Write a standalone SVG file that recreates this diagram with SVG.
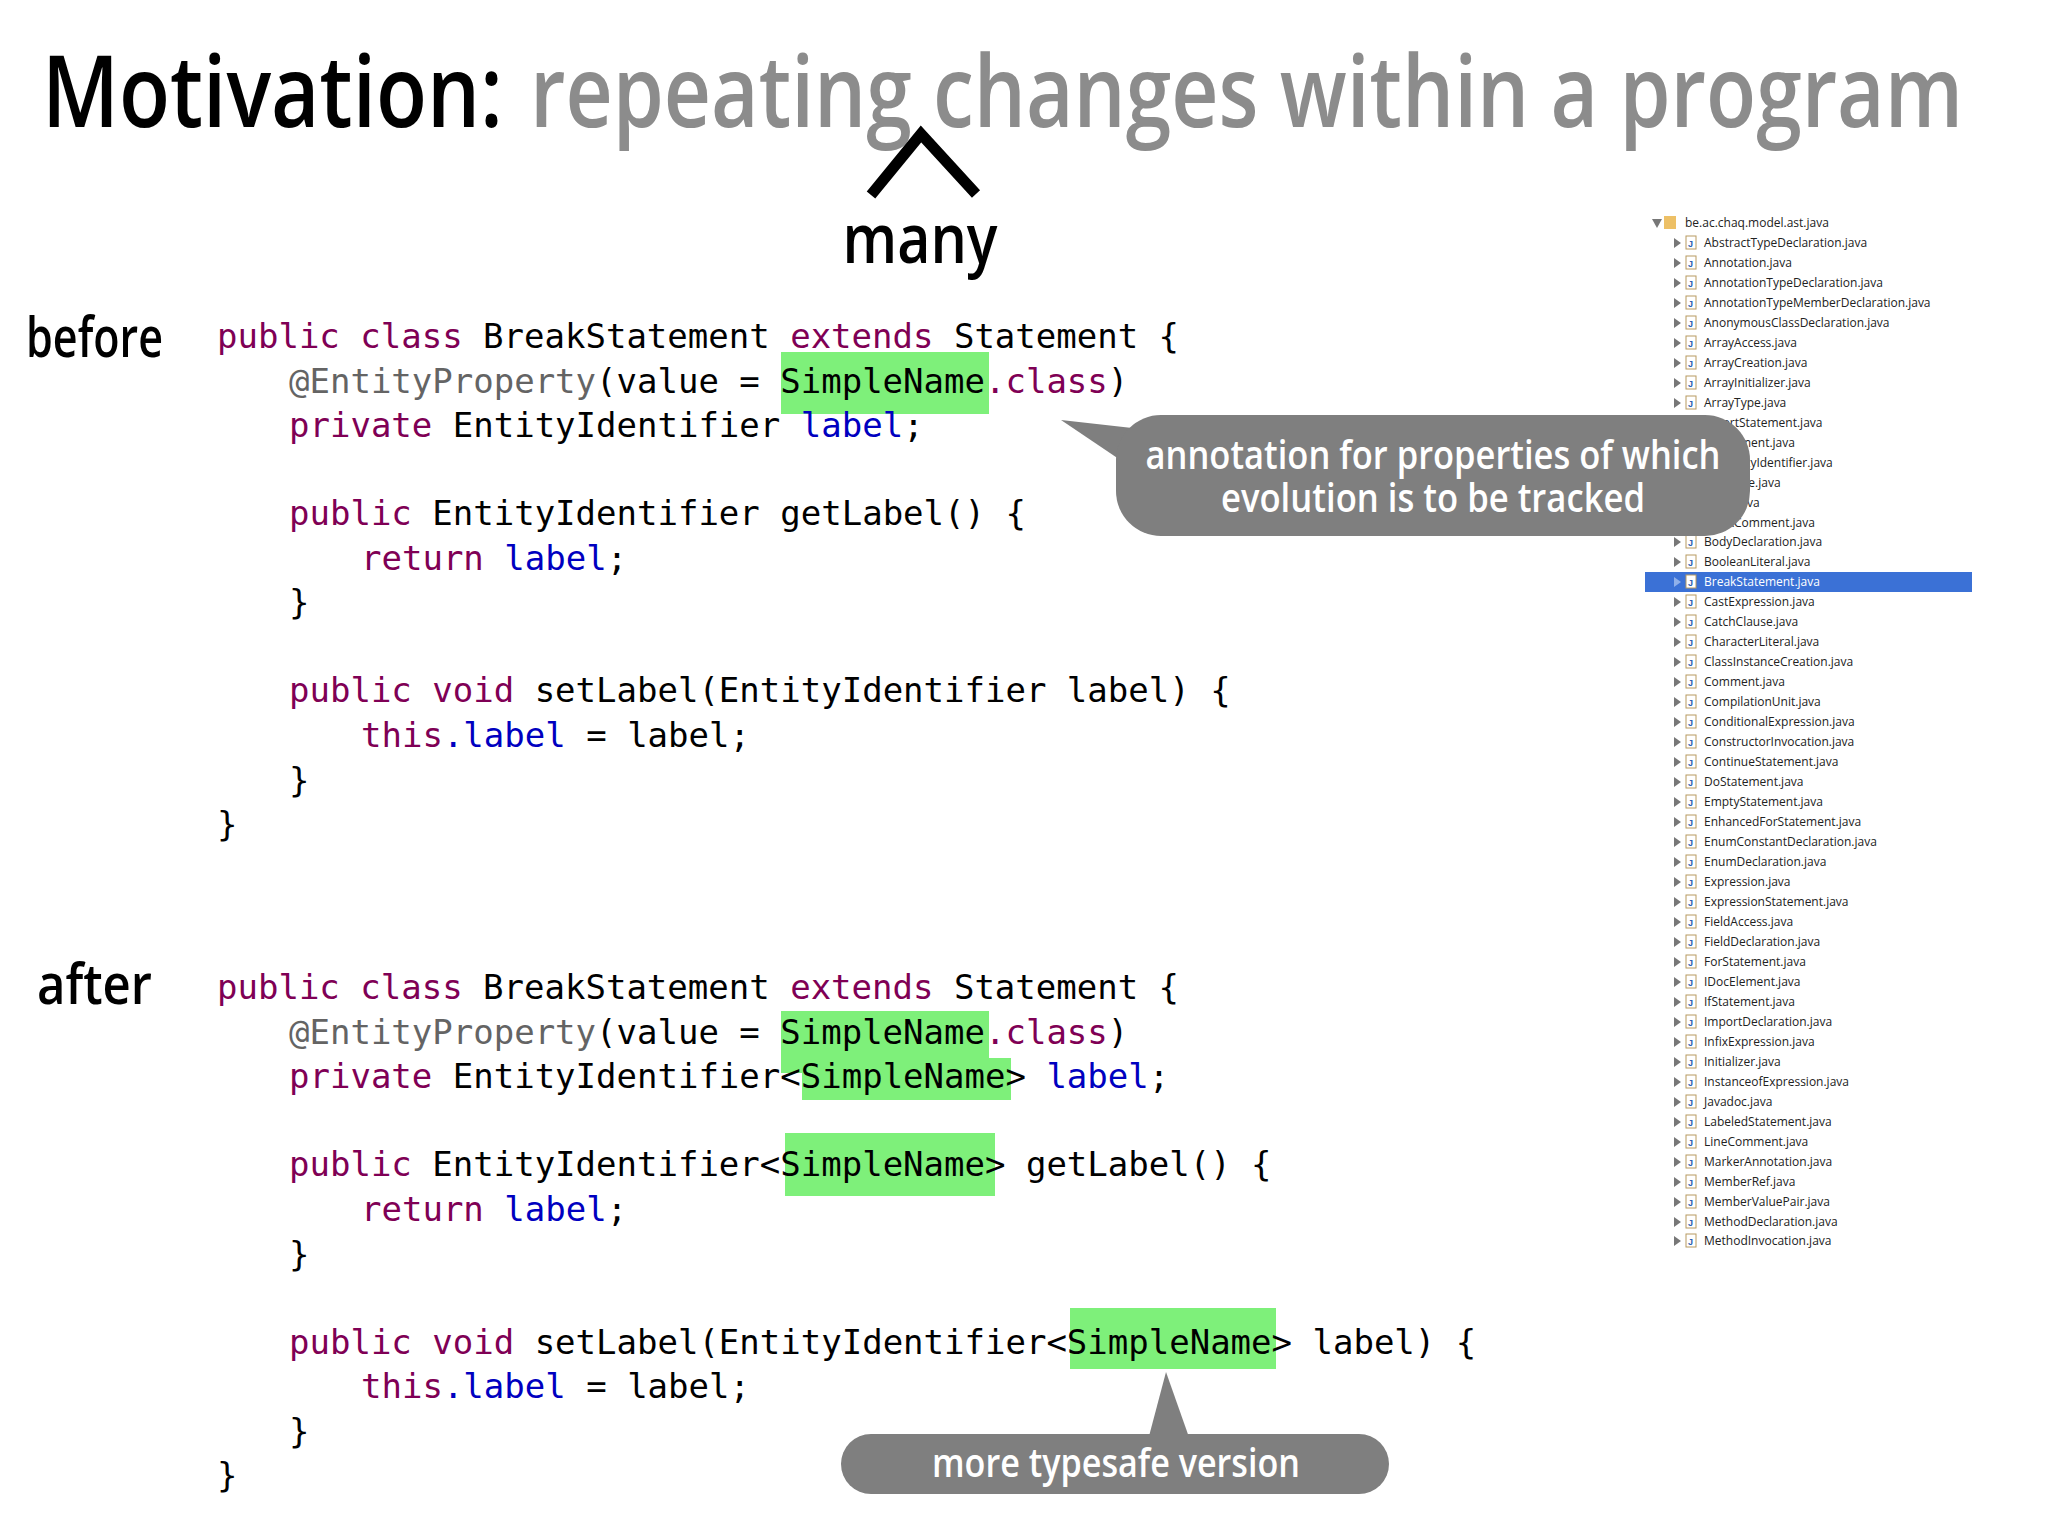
<svg xmlns="http://www.w3.org/2000/svg" width="2048" height="1536" viewBox="0 0 2048 1536">
<style>
.t{font-family:"Open Sans","Liberation Sans",sans-serif;font-weight:600}
.c{font-family:"DejaVu Sans Mono","Liberation Mono",monospace;font-size:34px;fill:#000}
.k{fill:#7f0055}.a{fill:#646464}.f{fill:#0000c0}
.hl{fill:#7ef07a}
.tr{font-family:"Open Sans","Liberation Sans",sans-serif;font-size:12px;fill:#222}
.ar{fill:#777}
.ic{fill:#fff;stroke:#b89a60;stroke-width:1}
.j{font-family:"Liberation Sans",sans-serif;font-size:9px;font-weight:bold;fill:#2a5db0}
.callout{fill:#7f7f7f}
.ct{font-family:"Open Sans","Liberation Sans",sans-serif;font-weight:600;fill:#fff;font-size:40px}
</style>
<rect width="2048" height="1536" fill="#fff"/>
<g id="title">
<text class="t" x="42" y="127" font-size="100" fill="#000" textLength="461" lengthAdjust="spacingAndGlyphs">Motivation:</text>
<text class="t" x="530" y="127" font-size="100" fill="#8c8c8c" textLength="1433" lengthAdjust="spacingAndGlyphs">repeating changes within a program</text>
<path d="M871,195 L921,134 L976,194" fill="none" stroke="#000" stroke-width="11" stroke-linejoin="miter"/>
<text class="t" x="920" y="263" font-size="68" fill="#000" text-anchor="middle" textLength="155" lengthAdjust="spacingAndGlyphs">many</text>
</g>
<g id="labels">
<text class="t" x="26" y="357" font-size="56" fill="#000" textLength="137" lengthAdjust="spacingAndGlyphs">before</text>
<text class="t" x="37" y="1004" font-size="56" fill="#000" textLength="115" lengthAdjust="spacingAndGlyphs">after</text>
</g>
<g id="highlights">
<rect class="hl" x="781" y="352" width="208" height="62"/>
<rect class="hl" x="781" y="1011" width="208" height="62"/>
<rect class="hl" x="802" y="1058" width="209" height="42"/>
<rect class="hl" x="785" y="1133" width="210" height="63"/>
<rect class="hl" x="1070" y="1308" width="206" height="61"/>
</g>
<g id="code-before" xml:space="preserve">
<text class="c" x="217" y="348"><tspan class="k">public class</tspan> BreakStatement <tspan class="k">extends</tspan> Statement {</text>
<text class="c" x="289" y="393"><tspan class="a">@EntityProperty</tspan>(value = SimpleName<tspan class="k">.class</tspan>)</text>
<text class="c" x="289" y="437"><tspan class="k">private</tspan> EntityIdentifier <tspan class="f">label</tspan>;</text>
<text class="c" x="289" y="525"><tspan class="k">public</tspan> EntityIdentifier getLabel() {</text>
<text class="c" x="361" y="570"><tspan class="k">return</tspan> <tspan class="f">label</tspan>;</text>
<text class="c" x="289" y="614">}</text>
<text class="c" x="289" y="702"><tspan class="k">public void</tspan> setLabel(EntityIdentifier label) {</text>
<text class="c" x="361" y="747"><tspan class="k">this</tspan><tspan class="f">.label</tspan> = label;</text>
<text class="c" x="289" y="792">}</text>
<text class="c" x="217" y="836">}</text>
</g>
<g id="code-after" xml:space="preserve">
<text class="c" x="217" y="999"><tspan class="k">public class</tspan> BreakStatement <tspan class="k">extends</tspan> Statement {</text>
<text class="c" x="289" y="1044"><tspan class="a">@EntityProperty</tspan>(value = SimpleName<tspan class="k">.class</tspan>)</text>
<text class="c" x="289" y="1088"><tspan class="k">private</tspan> EntityIdentifier&lt;SimpleName&gt; <tspan class="f">label</tspan>;</text>
<text class="c" x="289" y="1176"><tspan class="k">public</tspan> EntityIdentifier&lt;SimpleName&gt; getLabel() {</text>
<text class="c" x="361" y="1221"><tspan class="k">return</tspan> <tspan class="f">label</tspan>;</text>
<text class="c" x="289" y="1266">}</text>
<text class="c" x="289" y="1354"><tspan class="k">public void</tspan> setLabel(EntityIdentifier&lt;SimpleName&gt; label) {</text>
<text class="c" x="361" y="1398"><tspan class="k">this</tspan><tspan class="f">.label</tspan> = label;</text>
<text class="c" x="289" y="1443">}</text>
<text class="c" x="217" y="1487">}</text>
</g>
<g id="tree">
<rect x="1645" y="572" width="327" height="20" fill="#3b71d6"/>
<path class="ar" d="M1652,219 L1662,219 L1657,228 Z"/>
<rect x="1664" y="216" width="12" height="13" fill="#e8b040" opacity="0.8"/>
<text class="tr" x="1685" y="227">be.ac.chaq.model.ast.java</text>
<g id="items">
<g transform="translate(0,243)"><path class="ar" d="M1674,-5 L1681,0 L1674,5Z"/><rect class="ic" x="1686" y="-7" width="10" height="13"/><text class="j" x="1688" y="4">J</text><text class="tr" x="1704" y="4">AbstractTypeDeclaration.java</text></g>
<g transform="translate(0,263)"><path class="ar" d="M1674,-5 L1681,0 L1674,5Z"/><rect class="ic" x="1686" y="-7" width="10" height="13"/><text class="j" x="1688" y="4">J</text><text class="tr" x="1704" y="4">Annotation.java</text></g>
<g transform="translate(0,283)"><path class="ar" d="M1674,-5 L1681,0 L1674,5Z"/><rect class="ic" x="1686" y="-7" width="10" height="13"/><text class="j" x="1688" y="4">J</text><text class="tr" x="1704" y="4">AnnotationTypeDeclaration.java</text></g>
<g transform="translate(0,303)"><path class="ar" d="M1674,-5 L1681,0 L1674,5Z"/><rect class="ic" x="1686" y="-7" width="10" height="13"/><text class="j" x="1688" y="4">J</text><text class="tr" x="1704" y="4">AnnotationTypeMemberDeclaration.java</text></g>
<g transform="translate(0,323)"><path class="ar" d="M1674,-5 L1681,0 L1674,5Z"/><rect class="ic" x="1686" y="-7" width="10" height="13"/><text class="j" x="1688" y="4">J</text><text class="tr" x="1704" y="4">AnonymousClassDeclaration.java</text></g>
<g transform="translate(0,343)"><path class="ar" d="M1674,-5 L1681,0 L1674,5Z"/><rect class="ic" x="1686" y="-7" width="10" height="13"/><text class="j" x="1688" y="4">J</text><text class="tr" x="1704" y="4">ArrayAccess.java</text></g>
<g transform="translate(0,363)"><path class="ar" d="M1674,-5 L1681,0 L1674,5Z"/><rect class="ic" x="1686" y="-7" width="10" height="13"/><text class="j" x="1688" y="4">J</text><text class="tr" x="1704" y="4">ArrayCreation.java</text></g>
<g transform="translate(0,383)"><path class="ar" d="M1674,-5 L1681,0 L1674,5Z"/><rect class="ic" x="1686" y="-7" width="10" height="13"/><text class="j" x="1688" y="4">J</text><text class="tr" x="1704" y="4">ArrayInitializer.java</text></g>
<g transform="translate(0,403)"><path class="ar" d="M1674,-5 L1681,0 L1674,5Z"/><rect class="ic" x="1686" y="-7" width="10" height="13"/><text class="j" x="1688" y="4">J</text><text class="tr" x="1704" y="4">ArrayType.java</text></g>
<g transform="translate(0,423)"><text class="tr" x="1704" y="4">AssertStatement.java</text></g>
<g transform="translate(0,443)"><text class="tr" x="1704" y="4">Assignment.java</text></g>
<g transform="translate(0,463)"><text class="tr" x="1704" y="4">ASTEntityIdentifier.java</text></g>
<g transform="translate(0,483)"><text class="tr" x="1704" y="4">ASTNode.java</text></g>
<g transform="translate(0,503)"><text class="tr" x="1704" y="4">Block.java</text></g>
<g transform="translate(0,523)"><text class="tr" x="1704" y="4">BlockComment.java</text></g>
<g transform="translate(0,542)"><path class="ar" d="M1674,-5 L1681,0 L1674,5Z"/><rect class="ic" x="1686" y="-7" width="10" height="13"/><text class="j" x="1688" y="4">J</text><text class="tr" x="1704" y="4">BodyDeclaration.java</text></g>
<g transform="translate(0,562)"><path class="ar" d="M1674,-5 L1681,0 L1674,5Z"/><rect class="ic" x="1686" y="-7" width="10" height="13"/><text class="j" x="1688" y="4">J</text><text class="tr" x="1704" y="4">BooleanLiteral.java</text></g>
<g transform="translate(0,582)"><path d="M1674,-5 L1681,0 L1674,5Z" fill="#8fb0ea"/><rect class="ic" x="1686" y="-7" width="10" height="13"/><text class="j" x="1688" y="4">J</text><text class="tr" x="1704" y="4" fill="#fff" style="fill:#fff">BreakStatement.java</text></g>
<g transform="translate(0,602)"><path class="ar" d="M1674,-5 L1681,0 L1674,5Z"/><rect class="ic" x="1686" y="-7" width="10" height="13"/><text class="j" x="1688" y="4">J</text><text class="tr" x="1704" y="4">CastExpression.java</text></g>
<g transform="translate(0,622)"><path class="ar" d="M1674,-5 L1681,0 L1674,5Z"/><rect class="ic" x="1686" y="-7" width="10" height="13"/><text class="j" x="1688" y="4">J</text><text class="tr" x="1704" y="4">CatchClause.java</text></g>
<g transform="translate(0,642)"><path class="ar" d="M1674,-5 L1681,0 L1674,5Z"/><rect class="ic" x="1686" y="-7" width="10" height="13"/><text class="j" x="1688" y="4">J</text><text class="tr" x="1704" y="4">CharacterLiteral.java</text></g>
<g transform="translate(0,662)"><path class="ar" d="M1674,-5 L1681,0 L1674,5Z"/><rect class="ic" x="1686" y="-7" width="10" height="13"/><text class="j" x="1688" y="4">J</text><text class="tr" x="1704" y="4">ClassInstanceCreation.java</text></g>
<g transform="translate(0,682)"><path class="ar" d="M1674,-5 L1681,0 L1674,5Z"/><rect class="ic" x="1686" y="-7" width="10" height="13"/><text class="j" x="1688" y="4">J</text><text class="tr" x="1704" y="4">Comment.java</text></g>
<g transform="translate(0,702)"><path class="ar" d="M1674,-5 L1681,0 L1674,5Z"/><rect class="ic" x="1686" y="-7" width="10" height="13"/><text class="j" x="1688" y="4">J</text><text class="tr" x="1704" y="4">CompilationUnit.java</text></g>
<g transform="translate(0,722)"><path class="ar" d="M1674,-5 L1681,0 L1674,5Z"/><rect class="ic" x="1686" y="-7" width="10" height="13"/><text class="j" x="1688" y="4">J</text><text class="tr" x="1704" y="4">ConditionalExpression.java</text></g>
<g transform="translate(0,742)"><path class="ar" d="M1674,-5 L1681,0 L1674,5Z"/><rect class="ic" x="1686" y="-7" width="10" height="13"/><text class="j" x="1688" y="4">J</text><text class="tr" x="1704" y="4">ConstructorInvocation.java</text></g>
<g transform="translate(0,762)"><path class="ar" d="M1674,-5 L1681,0 L1674,5Z"/><rect class="ic" x="1686" y="-7" width="10" height="13"/><text class="j" x="1688" y="4">J</text><text class="tr" x="1704" y="4">ContinueStatement.java</text></g>
<g transform="translate(0,782)"><path class="ar" d="M1674,-5 L1681,0 L1674,5Z"/><rect class="ic" x="1686" y="-7" width="10" height="13"/><text class="j" x="1688" y="4">J</text><text class="tr" x="1704" y="4">DoStatement.java</text></g>
<g transform="translate(0,802)"><path class="ar" d="M1674,-5 L1681,0 L1674,5Z"/><rect class="ic" x="1686" y="-7" width="10" height="13"/><text class="j" x="1688" y="4">J</text><text class="tr" x="1704" y="4">EmptyStatement.java</text></g>
<g transform="translate(0,822)"><path class="ar" d="M1674,-5 L1681,0 L1674,5Z"/><rect class="ic" x="1686" y="-7" width="10" height="13"/><text class="j" x="1688" y="4">J</text><text class="tr" x="1704" y="4">EnhancedForStatement.java</text></g>
<g transform="translate(0,842)"><path class="ar" d="M1674,-5 L1681,0 L1674,5Z"/><rect class="ic" x="1686" y="-7" width="10" height="13"/><text class="j" x="1688" y="4">J</text><text class="tr" x="1704" y="4">EnumConstantDeclaration.java</text></g>
<g transform="translate(0,862)"><path class="ar" d="M1674,-5 L1681,0 L1674,5Z"/><rect class="ic" x="1686" y="-7" width="10" height="13"/><text class="j" x="1688" y="4">J</text><text class="tr" x="1704" y="4">EnumDeclaration.java</text></g>
<g transform="translate(0,882)"><path class="ar" d="M1674,-5 L1681,0 L1674,5Z"/><rect class="ic" x="1686" y="-7" width="10" height="13"/><text class="j" x="1688" y="4">J</text><text class="tr" x="1704" y="4">Expression.java</text></g>
<g transform="translate(0,902)"><path class="ar" d="M1674,-5 L1681,0 L1674,5Z"/><rect class="ic" x="1686" y="-7" width="10" height="13"/><text class="j" x="1688" y="4">J</text><text class="tr" x="1704" y="4">ExpressionStatement.java</text></g>
<g transform="translate(0,922)"><path class="ar" d="M1674,-5 L1681,0 L1674,5Z"/><rect class="ic" x="1686" y="-7" width="10" height="13"/><text class="j" x="1688" y="4">J</text><text class="tr" x="1704" y="4">FieldAccess.java</text></g>
<g transform="translate(0,942)"><path class="ar" d="M1674,-5 L1681,0 L1674,5Z"/><rect class="ic" x="1686" y="-7" width="10" height="13"/><text class="j" x="1688" y="4">J</text><text class="tr" x="1704" y="4">FieldDeclaration.java</text></g>
<g transform="translate(0,962)"><path class="ar" d="M1674,-5 L1681,0 L1674,5Z"/><rect class="ic" x="1686" y="-7" width="10" height="13"/><text class="j" x="1688" y="4">J</text><text class="tr" x="1704" y="4">ForStatement.java</text></g>
<g transform="translate(0,982)"><path class="ar" d="M1674,-5 L1681,0 L1674,5Z"/><rect class="ic" x="1686" y="-7" width="10" height="13"/><text class="j" x="1688" y="4">J</text><text class="tr" x="1704" y="4">IDocElement.java</text></g>
<g transform="translate(0,1002)"><path class="ar" d="M1674,-5 L1681,0 L1674,5Z"/><rect class="ic" x="1686" y="-7" width="10" height="13"/><text class="j" x="1688" y="4">J</text><text class="tr" x="1704" y="4">IfStatement.java</text></g>
<g transform="translate(0,1022)"><path class="ar" d="M1674,-5 L1681,0 L1674,5Z"/><rect class="ic" x="1686" y="-7" width="10" height="13"/><text class="j" x="1688" y="4">J</text><text class="tr" x="1704" y="4">ImportDeclaration.java</text></g>
<g transform="translate(0,1042)"><path class="ar" d="M1674,-5 L1681,0 L1674,5Z"/><rect class="ic" x="1686" y="-7" width="10" height="13"/><text class="j" x="1688" y="4">J</text><text class="tr" x="1704" y="4">InfixExpression.java</text></g>
<g transform="translate(0,1062)"><path class="ar" d="M1674,-5 L1681,0 L1674,5Z"/><rect class="ic" x="1686" y="-7" width="10" height="13"/><text class="j" x="1688" y="4">J</text><text class="tr" x="1704" y="4">Initializer.java</text></g>
<g transform="translate(0,1082)"><path class="ar" d="M1674,-5 L1681,0 L1674,5Z"/><rect class="ic" x="1686" y="-7" width="10" height="13"/><text class="j" x="1688" y="4">J</text><text class="tr" x="1704" y="4">InstanceofExpression.java</text></g>
<g transform="translate(0,1102)"><path class="ar" d="M1674,-5 L1681,0 L1674,5Z"/><rect class="ic" x="1686" y="-7" width="10" height="13"/><text class="j" x="1688" y="4">J</text><text class="tr" x="1704" y="4">Javadoc.java</text></g>
<g transform="translate(0,1122)"><path class="ar" d="M1674,-5 L1681,0 L1674,5Z"/><rect class="ic" x="1686" y="-7" width="10" height="13"/><text class="j" x="1688" y="4">J</text><text class="tr" x="1704" y="4">LabeledStatement.java</text></g>
<g transform="translate(0,1142)"><path class="ar" d="M1674,-5 L1681,0 L1674,5Z"/><rect class="ic" x="1686" y="-7" width="10" height="13"/><text class="j" x="1688" y="4">J</text><text class="tr" x="1704" y="4">LineComment.java</text></g>
<g transform="translate(0,1162)"><path class="ar" d="M1674,-5 L1681,0 L1674,5Z"/><rect class="ic" x="1686" y="-7" width="10" height="13"/><text class="j" x="1688" y="4">J</text><text class="tr" x="1704" y="4">MarkerAnnotation.java</text></g>
<g transform="translate(0,1182)"><path class="ar" d="M1674,-5 L1681,0 L1674,5Z"/><rect class="ic" x="1686" y="-7" width="10" height="13"/><text class="j" x="1688" y="4">J</text><text class="tr" x="1704" y="4">MemberRef.java</text></g>
<g transform="translate(0,1202)"><path class="ar" d="M1674,-5 L1681,0 L1674,5Z"/><rect class="ic" x="1686" y="-7" width="10" height="13"/><text class="j" x="1688" y="4">J</text><text class="tr" x="1704" y="4">MemberValuePair.java</text></g>
<g transform="translate(0,1222)"><path class="ar" d="M1674,-5 L1681,0 L1674,5Z"/><rect class="ic" x="1686" y="-7" width="10" height="13"/><text class="j" x="1688" y="4">J</text><text class="tr" x="1704" y="4">MethodDeclaration.java</text></g>
<g transform="translate(0,1241)"><path class="ar" d="M1674,-5 L1681,0 L1674,5Z"/><rect class="ic" x="1686" y="-7" width="10" height="13"/><text class="j" x="1688" y="4">J</text><text class="tr" x="1704" y="4">MethodInvocation.java</text></g>
</g>
</g>
<g id="callout-annotation">
<path class="callout" d="M1061,420 L1150,430 L1150,480 Z"/>
<rect class="callout" x="1116" y="415" width="634" height="121" rx="45"/>
<text class="ct" x="1433" y="469" text-anchor="middle" textLength="575" lengthAdjust="spacingAndGlyphs">annotation for properties of which</text>
<text class="ct" x="1433" y="512" text-anchor="middle" textLength="424" lengthAdjust="spacingAndGlyphs">evolution is to be tracked</text>
</g>
<g id="callout-typesafe">
<path class="callout" d="M1166,1372 L1148,1440 L1190,1440 Z"/>
<rect class="callout" x="841" y="1434" width="548" height="60" rx="30"/>
<text class="ct" x="1116" y="1477" text-anchor="middle" textLength="368" lengthAdjust="spacingAndGlyphs">more typesafe version</text>
</g>
</svg>
